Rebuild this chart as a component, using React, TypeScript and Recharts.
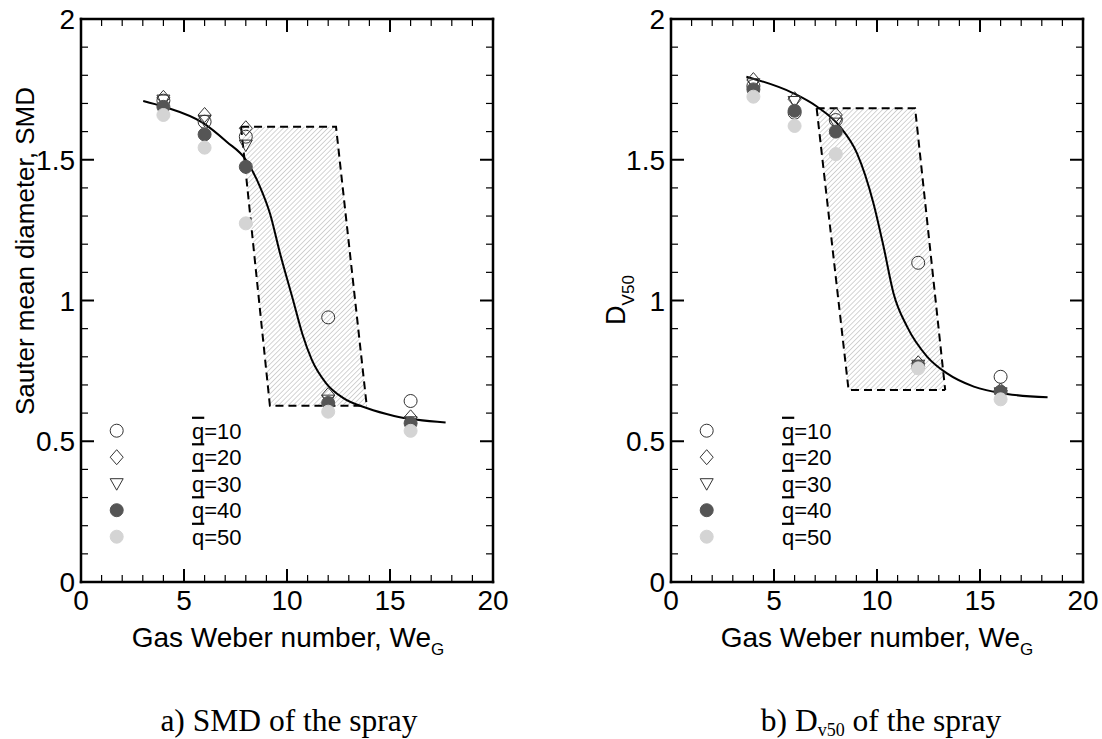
import { Area, ComposedChart, Line, Scatter, XAxis, YAxis } from "recharts"

// gas Weber numbers where the sprays were measured
const weG = [4, 6, 8, 12, 16]
const qLevels = [10, 20, 30, 40, 50]

// a) Sauter mean diameter
const smdQ10 = [1.71, 1.635, 1.582, 0.94, 0.643]
const smdQ20 = [1.72, 1.659, 1.612, 0.664, 0.585]
const smdQ30 = [1.712, 1.64, 1.552, 0.646, 0.569]
const smdQ40 = [1.688, 1.59, 1.475, 0.636, 0.564]
const smdQ50 = [1.659, 1.543, 1.274, 0.605, 0.537]

const smdFitX = [3.02, 4.0, 5.94, 7.07, 8.0, 8.69, 9.17, 9.66, 10.3, 10.75, 11.2, 11.9, 12.7, 13.9, 15.2, 17.7]
const smdFitY = [1.709, 1.689, 1.63, 1.564, 1.5, 1.404, 1.31, 1.168, 1.0, 0.88, 0.79, 0.706, 0.655, 0.617, 0.59, 0.567]

// transition band: top-left, bottom-left, top-right, bottom-right x, then top / bottom y
const smdBoxX = [7.77, 9.17, 12.38, 13.87]
const smdBoxY = [1.617, 0.626]

// b) Dv50
const dvQ10 = [1.762, 1.667, 1.641, 1.134, 0.729]
const dvQ20 = [1.783, 1.715, 1.659, 0.777, 0.68]
const dvQ30 = [1.77, 1.707, 1.63, 0.77, 0.672]
const dvQ40 = [1.75, 1.674, 1.6, 0.765, 0.676]
const dvQ50 = [1.724, 1.62, 1.52, 0.759, 0.649]

const dvFitX = [3.66, 5.95, 7.08, 8.21, 9.03, 9.83, 10.32, 10.8, 11.46, 12.44, 13.4, 14.7, 16.31, 18.28]
const dvFitY = [1.795, 1.736, 1.689, 1.617, 1.523, 1.345, 1.191, 1.026, 0.907, 0.8, 0.741, 0.694, 0.668, 0.656]

const dvBoxX = [7.07, 8.62, 11.85, 13.31]
const dvBoxY = [1.683, 0.682]

const xTicks = [0, 1, 2, 3, 4, 5, 6, 7, 8, 9, 10, 11, 12, 13, 14, 15, 16, 17, 18, 19, 20]
const yTicks = [0, 0.1, 0.2, 0.3, 0.4, 0.5, 0.6, 0.7, 0.8, 0.9, 1, 1.1, 1.2, 1.3, 1.4, 1.5, 1.6, 1.7, 1.8, 1.9, 2]

const SANS = "'Liberation Sans', Arial, sans-serif"
const SERIF = "'Liberation Serif', 'Times New Roman', serif"

const markerStyles = [
  { kind: "circle", fill: "none", stroke: "#333" },
  { kind: "diamond", fill: "none", stroke: "#333" },
  { kind: "triangle", fill: "none", stroke: "#333" },
  { kind: "circle", fill: "#555", stroke: "#555" },
  { kind: "circle", fill: "#d4d4d4", stroke: "#d4d4d4" },
]

function Marker({ cx, cy, kind, fill, stroke }: any) {
  if (kind === "diamond")
    return <path d={`M${cx},${cy - 7.5}L${cx + 6.5},${cy}L${cx},${cy + 7.5}L${cx - 6.5},${cy}Z`} fill={fill} stroke={stroke} strokeWidth={1} />
  if (kind === "triangle")
    return <path d={`M${cx - 6.5},${cy - 5}L${cx + 6.5},${cy - 5}L${cx},${cy + 6.5}Z`} fill={fill} stroke={stroke} strokeWidth={1} />
  return <circle cx={cx} cy={cy} r={6.5} fill={fill} stroke={stroke} strokeWidth={1} />
}

const isMajorX = (v: number) => v % 5 === 0
const isMajorY = (v: number) => Math.round(v * 10) % 5 === 0

function BottomTick({ x, y, payload }: any) {
  const major = isMajorX(payload.value)
  return (
    <g>
      <line x1={x} x2={x} y1={y} y2={y - (major ? 13 : 7)} stroke="#000" strokeWidth={major ? 2 : 1.2} />
      {major && (
        <text x={x} y={y + 28} textAnchor="middle" fontSize={28} fontFamily={SANS} fill="#000">
          {payload.value}
        </text>
      )}
    </g>
  )
}

function TopTick({ x, y, payload }: any) {
  const major = isMajorX(payload.value)
  return <line x1={x} x2={x} y1={y} y2={y + (major ? 13 : 7)} stroke="#000" strokeWidth={major ? 2 : 1.2} />
}

function LeftTick({ x, y, payload }: any) {
  const major = isMajorY(payload.value)
  return (
    <g>
      <line x1={x} x2={x + (major ? 13 : 7)} y1={y} y2={y} stroke="#000" strokeWidth={major ? 2 : 1.2} />
      {major && (
        <text x={x - 6} y={y + 10} textAnchor="end" fontSize={28} fontFamily={SANS} fill="#000">
          {String(Math.round(payload.value * 10) / 10)}
        </text>
      )}
    </g>
  )
}

function RightTick({ x, y, payload }: any) {
  const major = isMajorY(payload.value)
  return <line x1={x} x2={x - (major ? 13 : 7)} y1={y} y2={y} stroke="#000" strokeWidth={major ? 2 : 1.2} />
}

const frame = { stroke: "#000", strokeWidth: 2.5, strokeLinecap: "square" as const }

function Panel({ series, fitX, fitY, boxX, boxY, hatch, marginLeft, marginRight, legendX, textX, yTitle, xTitleX, caption, captionX }: any) {
  const fit = fitX.map((x: number, i: number) => ({ x, y: fitY[i] }))
  const [top, bottom] = boxY
  const band = [
    { x: boxX[0], band: [top, top] },
    { x: boxX[1], band: [bottom, top] },
    { x: boxX[2], band: [bottom, top] },
    { x: boxX[3], band: [bottom, bottom] },
  ]
  return (
    <ComposedChart width={551} height={739} margin={{ top: 10, right: marginRight, bottom: 117, left: marginLeft }}>
      <XAxis dataKey="x" type="number" domain={[0, 20]} ticks={xTicks} interval={0} allowDataOverflow
        height={40} tickSize={0} tickMargin={0} tickLine={false} axisLine={frame} tick={<BottomTick />} />
      <XAxis xAxisId="top" orientation="top" dataKey="x" type="number" domain={[0, 20]} ticks={xTicks} interval={0} allowDataOverflow
        height={9} tickSize={0} tickMargin={0} tickLine={false} axisLine={frame} tick={<TopTick />} />
      <YAxis dataKey="y" type="number" domain={[0, 2]} ticks={yTicks} interval={0} allowDataOverflow
        width={40} tickSize={0} tickMargin={0} tickLine={false} axisLine={frame} tick={<LeftTick />} />
      <YAxis yAxisId="right" orientation="right" type="number" domain={[0, 2]} ticks={yTicks} interval={0} allowDataOverflow
        width={10} tickSize={0} tickMargin={0} tickLine={false} axisLine={frame} tick={<RightTick />} />

      <Area data={band} dataKey="band" type="linear" fill={`url(#${hatch})`} fillOpacity={1}
        stroke="#000" strokeWidth={2} strokeDasharray="8 5" dot={false} activeDot={false} isAnimationActive={false} />

      {series.map((ys: number[], k: number) => (
        <Scatter key={k} name={`q=${qLevels[k]}`} data={weG.map((x, i) => ({ x, y: ys[i] }))}
          isAnimationActive={false}
          shape={(p: any) => <Marker cx={p.cx} cy={p.cy} {...markerStyles[k]} />} />
      ))}

      <Line data={fit} dataKey="y" type="monotone" stroke="#000" strokeWidth={2} dot={false} activeDot={false} isAnimationActive={false} />

      <g>
        {qLevels.map((q, k) => {
          const cy = 430.7 + k * 26.5
          return (
            <g key={q}>
              <Marker cx={legendX} cy={cy} {...markerStyles[k]} />
              <text x={textX} y={cy + 8} fontSize={22} fontFamily={SANS} fill="#000">
                <tspan style={{ textDecoration: "overline" }}>q</tspan>={q}
              </text>
            </g>
          )
        })}
        {yTitle}
        <text x={xTitleX} y={647} textAnchor="middle" fontSize={28} fontFamily={SANS} fill="#000">
          Gas Weber number, We<tspan fontSize={17} dy={8}>G</tspan>
        </text>
        <text x={captionX} y={731} textAnchor="middle" fontSize={31.5} fontFamily={SERIF} fill="#000">
          {caption}
        </text>
      </g>
    </ComposedChart>
  )
}

export default function App() {
  return (
    <div style={{ position: "absolute", left: 0, top: 0, width: 1102, height: 739, background: "#fff" }}>
      <svg width={0} height={0} style={{ position: "absolute" }}>
        <defs>
          <pattern id="hatchA" width={3.5} height={3.5} patternUnits="userSpaceOnUse" patternTransform="rotate(45)">
            <rect width={3.5} height={3.5} fill="#fff" />
            <line x1={0} y1={0} x2={0} y2={3.5} stroke="#aaa" strokeWidth={1} />
          </pattern>
          <pattern id="hatchB" width={3.5} height={3.5} patternUnits="userSpaceOnUse" patternTransform="rotate(45)">
            <rect width={3.5} height={3.5} fill="#fff" />
            <line x1={0} y1={0} x2={0} y2={3.5} stroke="#aaa" strokeWidth={1} />
          </pattern>
        </defs>
      </svg>
      <div style={{ position: "absolute", left: 0, top: 0 }}>
        <Panel
          series={[smdQ10, smdQ20, smdQ30, smdQ40, smdQ50]}
          fitX={smdFitX} fitY={smdFitY} boxX={smdBoxX} boxY={smdBoxY} hatch="hatchA"
          marginLeft={41} marginRight={48} legendX={116.7} textX={192}
          yTitle={
            <text x={34} y={251} transform="rotate(-90 34 251)" textAnchor="middle" fontSize={26} fontFamily={SANS} fill="#000">
              Sauter mean diameter, SMD
            </text>
          }
          xTitleX={288}
          caption="a) SMD of the spray" captionX={289}
        />
      </div>
      <div style={{ position: "absolute", left: 551, top: 0 }}>
        <Panel
          series={[dvQ10, dvQ20, dvQ30, dvQ40, dvQ50]}
          fitX={dvFitX} fitY={dvFitY} boxX={dvBoxX} boxY={dvBoxY} hatch="hatchB"
          marginLeft={80} marginRight={9} legendX={155.7} textX={231}
          yTitle={
            <text x={74} y={300} transform="rotate(-90 74 300)" textAnchor="middle" fontSize={27} fontFamily={SANS} fill="#000">
              D<tspan fontSize={17} dy={9}>V50</tspan>
            </text>
          }
          xTitleX={326}
          caption={<>b) D<tspan fontSize={18} dy={5}>v50</tspan><tspan dy={-5}> of the spray</tspan></>}
          captionX={330}
        />
      </div>
    </div>
  )
}
